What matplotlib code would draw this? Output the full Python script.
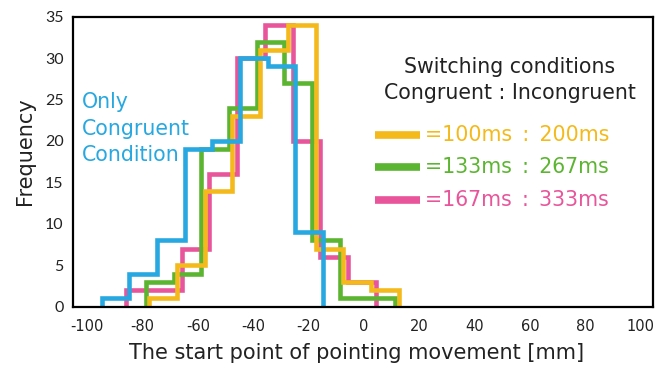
import matplotlib
matplotlib.use('Agg')
import matplotlib.pyplot as plt

plt.rcParams['font.family'] = ['DejaVu Sans']
plt.rcParams['axes.unicode_minus'] = False

# 各条件のヒストグラム (ビン境界と度数)
blue_edges = [-94.8, -84.8, -74.8, -64.8, -54.8, -44.8, -34.8, -24.8, -14.8]
blue_counts = [1, 4, 8, 19, 20, 30, 29, 9]
yellow_edges = [-77.5, -67.5, -57.5, -47.5, -37.5, -27.5, -17.5, -7.5, 2.5, 12.5]
yellow_counts = [1, 5, 14, 23, 31, 34, 7, 3, 2]
green_edges = [-78.8, -68.8, -58.8, -48.8, -38.8, -28.8, -18.8, -8.8, 1.2, 11.2]
green_counts = [3, 4, 19, 24, 32, 27, 8, 1, 1]
pink_edges = [-85.8, -75.8, -65.8, -55.8, -45.8, -35.8, -25.8, -15.8, -5.8, 4.2]
pink_counts = [2, 2, 7, 16, 30, 34, 20, 6, 3]

legend_labels = ['=100ms\u2002:\u2002200ms', '=133ms\u2002:\u2002267ms', '=167ms\u2002:\u2002333ms']
x_ticks = [-100, -80, -60, -40, -20, 0, 20, 40, 60, 80, 100]
y_ticks = [0, 5, 10, 15, 20, 25, 30, 35]

c_blue = '#27A8E0'
c_yellow = '#F4B91A'
c_green = '#5CB531'
c_pink = '#E8559A'

fig = plt.figure(figsize=(6.68, 3.70), dpi=100)
ax = fig.add_axes([0.1097, 0.171, 0.8683, 0.784])

lw = 3.3
ax.stairs(pink_counts, pink_edges, color=c_pink, linewidth=lw, baseline=0)
ax.stairs(green_counts, green_edges, color=c_green, linewidth=lw, baseline=0)
ax.stairs(yellow_counts, yellow_edges, color=c_yellow, linewidth=lw, baseline=0)
ax.stairs(blue_counts, blue_edges, color=c_blue, linewidth=lw, baseline=0)

ax.set_xlim(-105, 104.5)
ax.set_ylim(0, 35)
ax.set_xticks(x_ticks)
ax.set_xticklabels([str(v) for v in x_ticks], fontsize=10.5)
ax.set_yticks(y_ticks)
ax.set_yticklabels([str(v) for v in y_ticks], fontsize=11.5, family=['Lato', 'DejaVu Sans'])
ax.tick_params(axis='both', length=0, colors='#222222')
ax.tick_params(axis='x', pad=9)
ax.tick_params(axis='y', pad=7)
for s in ax.spines.values():
    s.set_linewidth(1.6)
    s.set_color('black')

ax.set_xlabel('The start point of pointing movement [mm]', fontsize=15, color='#222222')
ax.xaxis.set_label_coords(0.489, -0.125)
ax.set_ylabel('Frequency', fontsize=15, color='#222222')
ax.yaxis.set_label_coords(-0.066, 0.537)

# 凡例 (手描き)
ax.text(0.752, 0.828, 'Switching conditions', transform=ax.transAxes,
        ha='center', va='center', fontsize=14.8, color='#222222')
ax.text(0.752, 0.738, 'Congruent : Incongruent', transform=ax.transAxes,
        ha='center', va='center', fontsize=14.8, color='#222222')
for lab, col, yy in zip(legend_labels, [c_yellow, c_green, c_pink], [0.592, 0.482, 0.368]):
    ax.plot([0.520, 0.598], [yy, yy], color=col, linewidth=5.5,
            transform=ax.transAxes, solid_capstyle='butt')
    ax.text(0.606, yy, lab, transform=ax.transAxes, ha='left', va='center',
            fontsize=14.8, color=col)

ax.text(0.014, 0.614, 'Only\nCongruent\nCondition', transform=ax.transAxes,
        ha='left', va='center', fontsize=14.8, color=c_blue, linespacing=1.4)

fig.savefig('out.png', dpi=100)
